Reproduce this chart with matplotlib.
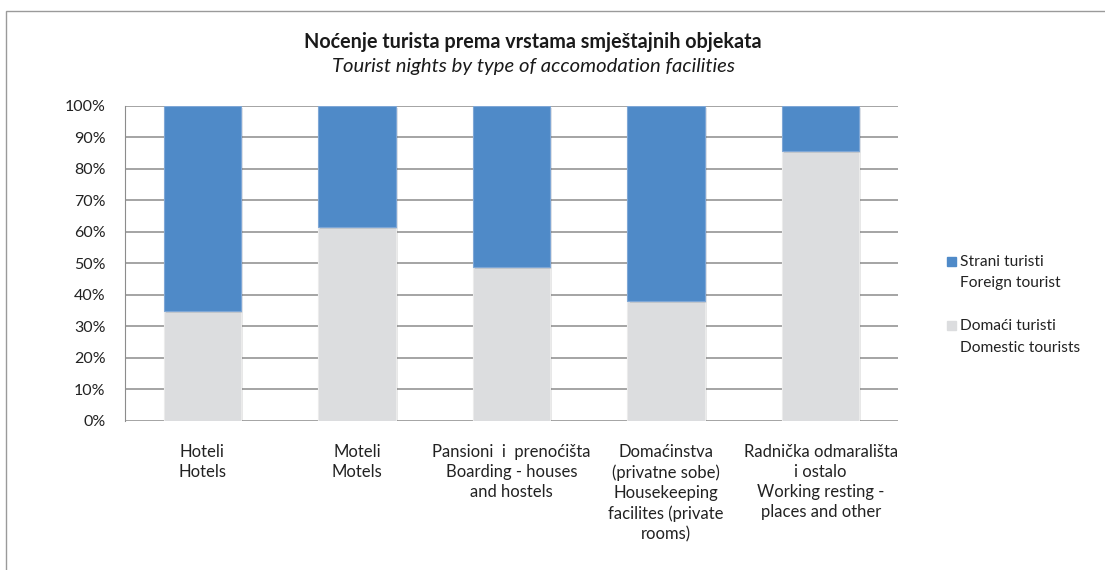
import matplotlib.pyplot as plt
from matplotlib.patches import Rectangle
from matplotlib.ticker import PercentFormatter
import matplotlib.patheffects as pe

plt.rcParams['font.family'] = ['Lato', 'DejaVu Sans']

categories = ["Hoteli\nHotels",
              "Moteli\nMotels",
              "Pansioni  i  prenoćišta\nBoarding - houses\nand hostels",
              "Domaćinstva\n(privatne sobe)\nHousekeeping\nfacilites (private\nrooms)",
              "Radnička odmarališta\ni ostalo\nWorking resting -\nplaces and other"]
domestic = [34.9, 61.5, 48.8, 38.1, 85.6]
foreign = [65.1, 38.5, 51.2, 61.9, 14.4]
legend_labels = [("Strani turisti", "Foreign tourist"),
                 ("Domaći turisti", "Domestic tourists")]

blue = '#4F8AC8'
grey = '#DCDDDF'
txt = '#222222'

fig = plt.figure(figsize=(11.05, 5.7), dpi=100)
ax = fig.add_axes([0.1131, 0.2619, 0.6996, 0.5527])

shadow = [pe.SimplePatchShadow(offset=(1.5, -1.5), alpha=0.12), pe.Normal()]
x = range(len(categories))
ax.bar(x, domestic, width=0.5, color=grey, edgecolor='#EBEBEB', linewidth=0.8,
       zorder=3, path_effects=shadow)
ax.bar(x, foreign, width=0.5, bottom=domestic, color=blue, edgecolor='#7FA7D6',
       linewidth=0.8, zorder=3, path_effects=shadow)

ax.set_xlim(-0.5, len(categories) - 0.5)
ax.set_ylim(0, 100)
ax.set_yticks(range(0, 101, 10))
ax.yaxis.set_major_formatter(PercentFormatter(decimals=0))
ax.grid(axis='y', color='#8C8C8C', linewidth=1.1, zorder=0)
ax.set_xticks(list(x))
ax.set_xticklabels(categories, fontsize=12, color=txt, linespacing=1.31, va='top')
ax.tick_params(axis='x', length=0, pad=17)
ax.tick_params(axis='y', length=0, pad=14, labelsize=11.5, labelcolor=txt)
for s in ['top', 'right', 'bottom']:
    ax.spines[s].set_visible(False)
ax.spines['left'].set_color('#8C8C8C')

# legend drawn by hand: square beside first line, second line below
W, H = 1105, 570
for (l1, l2), c, y1, y2 in [(legend_labels[0], blue, 261.5, 283),
                            (legend_labels[1], grey, 325.5, 347.5)]:
    fig.patches.append(Rectangle((947 / W, 1 - (y1 + 4.5) / H), 8.5 / W, 9 / H,
                                 transform=fig.transFigure, color=c))
    fig.text(960 / W, 1 - y1 / H, l1, ha='left', va='center', fontsize=11.2, color=txt)
    fig.text(960 / W, 1 - y2 / H, l2, ha='left', va='center', fontsize=11.2, color=txt)

fig.text(0.4824, 0.926, "Noćenje turista prema vrstama smještajnih objekata",
         ha='center', va='center', fontsize=14.2, fontweight='bold', color='#1a1a1a')
fig.text(0.4824, 0.884, "Tourist nights by type of accomodation facilities",
         ha='center', va='center', fontsize=14.6, style='italic', color='#1a1a1a')

fig.patches.append(Rectangle((6 / W, -0.1), 1.2, 1 - 11 / H + 0.1,
                             transform=fig.transFigure, fill=False,
                             edgecolor='#9A9A9A', linewidth=1.0))

fig.savefig('out.png', dpi=100)
